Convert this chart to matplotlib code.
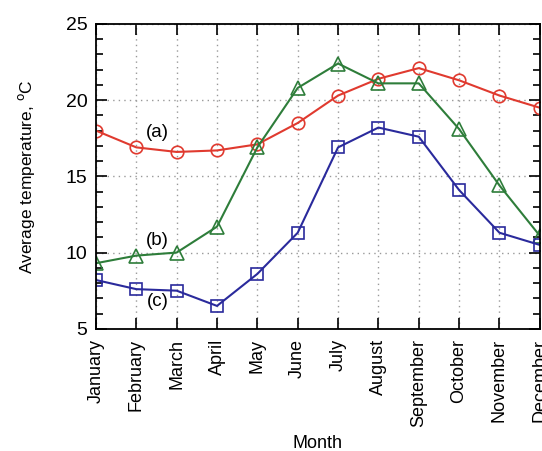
import matplotlib
matplotlib.use("Agg")
import matplotlib.pyplot as plt
from matplotlib.ticker import MultipleLocator

plt.rcParams['font.family'] = ['Liberation Sans', 'DejaVu Sans']

months = ['January', 'February', 'March', 'April', 'May', 'June', 'July',
          'August', 'September', 'October', 'November', 'December']
temp_a = [18.0, 16.9, 16.6, 16.7, 17.1, 18.5, 20.3, 21.4, 22.1, 21.3, 20.3, 19.5]
temp_b = [9.3, 9.8, 10.0, 11.7, 16.9, 20.8, 22.4, 21.1, 21.1, 18.1, 14.4, 11.1]
temp_c = [8.2, 7.6, 7.5, 6.5, 8.6, 11.3, 16.9, 18.2, 17.6, 14.1, 11.3, 10.5]

fig = plt.figure(figsize=(5.42, 4.51), dpi=100)
ax = fig.add_axes([0.177, 0.271, 0.819, 0.676])

x = list(range(len(months)))
ax.plot(x, temp_a, color='#e03a2f', marker='o', mfc='none', ms=9, mew=1.2, lw=1.5)
ax.plot(x, temp_b, color='#2e7d3a', marker='^', mfc='none', ms=9.5, mew=1.2, lw=1.5)
ax.plot(x, temp_c, color='#2a2a9c', marker='s', mfc='none', ms=9, mew=1.2, lw=1.5)

ax.text(1.53, 17.85, '(a)', fontsize=13.5, ha='center', va='center')
ax.text(1.53, 10.8, '(b)', fontsize=13.5, ha='center', va='center')
ax.text(1.53, 6.8, '(c)', fontsize=13.5, ha='center', va='center')

ax.set_xlim(0, 11)
ax.set_ylim(5, 25)
ax.set_xticks(x)
ax.set_xticklabels(months, rotation=90, fontsize=13)
ax.yaxis.set_major_locator(MultipleLocator(5))
ax.yaxis.set_minor_locator(MultipleLocator(1))
ax.tick_params(axis='y', labelsize=14, pad=6)
ax.tick_params(axis='x', pad=7)
ax.tick_params(which='both', direction='in', top=True, right=True, width=1.2)
ax.tick_params(which='major', length=8)
ax.tick_params(which='minor', length=5)
for s in ax.spines.values():
    s.set_linewidth(1.3)

ax.grid(True, which='major', linestyle=(0, (1, 3)), color='#999999', lw=1)
ax.set_ylabel(r'Average temperature, $^{\rm o}$C', fontsize=12.5, labelpad=21)
ax.set_xlabel('Month', fontsize=13, labelpad=6)

fig.savefig('out.png', dpi=100)
